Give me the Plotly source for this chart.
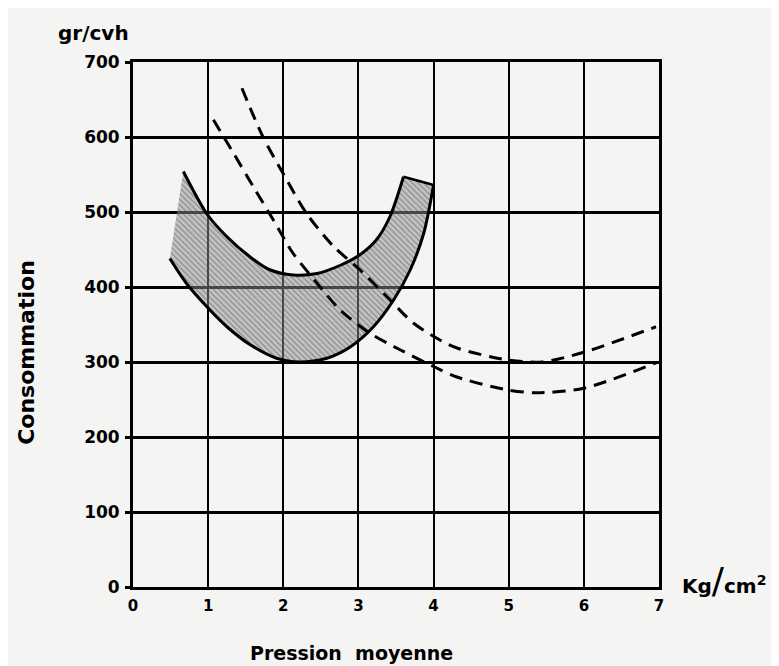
import plotly.graph_objects as go

# Shaded band (solid outlines)
band_upper_x = [0.67, 0.98, 1.25, 1.56, 1.82, 2.13, 2.45, 2.76, 3.02, 3.24, 3.42, 3.60]
band_upper_y = [554, 498, 467, 440, 423, 416, 418, 429, 443, 463, 494, 547]
band_lower_x = [0.49, 0.71, 0.98, 1.25, 1.56, 1.91, 2.22, 2.58, 2.89, 3.20, 3.47, 3.69, 3.87, 4.00]
band_lower_y = [438, 405, 374, 347, 323, 305, 300, 305, 320, 347, 383, 423, 472, 536]

# Dashed curves
dash_low_x = [1.07, 1.34, 1.60, 1.87, 2.13, 2.45, 2.76, 3.16, 3.56, 4.00, 4.31, 4.97, 5.36, 6.00, 6.96]
dash_low_y = [623, 578, 534, 489, 445, 405, 369, 338, 316, 294, 280, 263, 259, 265, 299]
dash_high_x = [1.45, 1.73, 2.00, 2.31, 2.67, 3.02, 3.38, 3.73, 4.09, 4.33, 4.97, 5.44, 6.00, 6.96]
dash_high_y = [665, 600, 551, 498, 454, 423, 387, 352, 329, 318, 303, 300, 313, 347]

x_ticks = [0, 1, 2, 3, 4, 5, 6, 7]
y_ticks = [0, 100, 200, 300, 400, 500, 600, 700]

BG = "#f4f4f2"
FONT = "DejaVu Sans"

fig = go.Figure()

fig.add_trace(go.Scatter(
    x=band_lower_x, y=band_lower_y, mode="lines",
    line=dict(color="black", width=3, shape="spline", smoothing=0.8),
    hoverinfo="skip", showlegend=False))
fig.add_trace(go.Scatter(
    x=band_upper_x, y=band_upper_y, mode="lines",
    line=dict(color="black", width=3, shape="spline", smoothing=0.8),
    fill="tonexty",
    fillpattern=dict(shape="\\", fgcolor="rgba(40,40,40,0.7)",
                     bgcolor="rgba(150,150,150,0.5)", size=4, solidity=0.35),
    hoverinfo="skip", showlegend=False))
# right end of band
fig.add_trace(go.Scatter(
    x=[band_upper_x[-1], band_lower_x[-1]], y=[band_upper_y[-1], band_lower_y[-1]],
    mode="lines", line=dict(color="black", width=2.5),
    hoverinfo="skip", showlegend=False))

for xs, ys in [(dash_low_x, dash_low_y), (dash_high_x, dash_high_y)]:
    fig.add_trace(go.Scatter(
        x=xs, y=ys, mode="lines",
        line=dict(color="black", width=3, shape="spline", smoothing=0.8, dash="13px,8px"),
        hoverinfo="skip", showlegend=False))

fig.update_xaxes(
    range=[0, 7], tickvals=x_ticks, ticktext=[str(v) for v in x_ticks],
    showgrid=True, gridcolor="black", gridwidth=1.6,
    showline=True, linecolor="black", linewidth=2.8, mirror=True,
    zeroline=False, ticks="",
    tickfont=dict(family=FONT, size=15, color="black", weight="bold"),
    ticklabelstandoff=3)
fig.update_yaxes(
    range=[0, 700], tickvals=y_ticks, ticktext=[str(v) for v in y_ticks],
    showgrid=True, gridcolor="black", gridwidth=2.6,
    showline=True, linecolor="black", linewidth=2.8, mirror=True,
    zeroline=False, ticks="outside", ticklen=5, tickwidth=2.5, tickcolor="black",
    tickfont=dict(family=FONT, size=17, color="black", weight="bold"),
    ticklabelstandoff=2)

fig.update_layout(
    width=771, height=658,
    margin=dict(l=125, r=120, t=54, b=79),
    paper_bgcolor=BG, plot_bgcolor=BG,
    annotations=[
        dict(text="gr/cvh", xref="paper", yref="paper", x=-0.076, y=1.055,
             xanchor="center", yanchor="middle", showarrow=False,
             font=dict(family=FONT, size=20, color="black", weight="bold")),
        dict(text="Kg<span style='font-size:36px;font-weight:normal'>/</span>cm<sup>2</sup>",
             xref="paper", yref="paper", x=1.04, y=0.013, xanchor="left", yanchor="middle",
             showarrow=False, font=dict(family=FONT, size=20, color="black", weight="bold")),
        dict(text="Consommation", xref="paper", yref="paper", x=-0.2015, y=0.446,
             xanchor="center", yanchor="middle", textangle=-90, showarrow=False,
             font=dict(family=FONT, size=22, color="black", weight="bold")),
        dict(text="Pression  moyenne", xref="paper", yref="paper", x=0.415, y=-0.126,
             xanchor="center", yanchor="middle", showarrow=False,
             font=dict(family=FONT, size=19, color="black", weight="bold")),
    ],
)

fig.write_html("out.html")
